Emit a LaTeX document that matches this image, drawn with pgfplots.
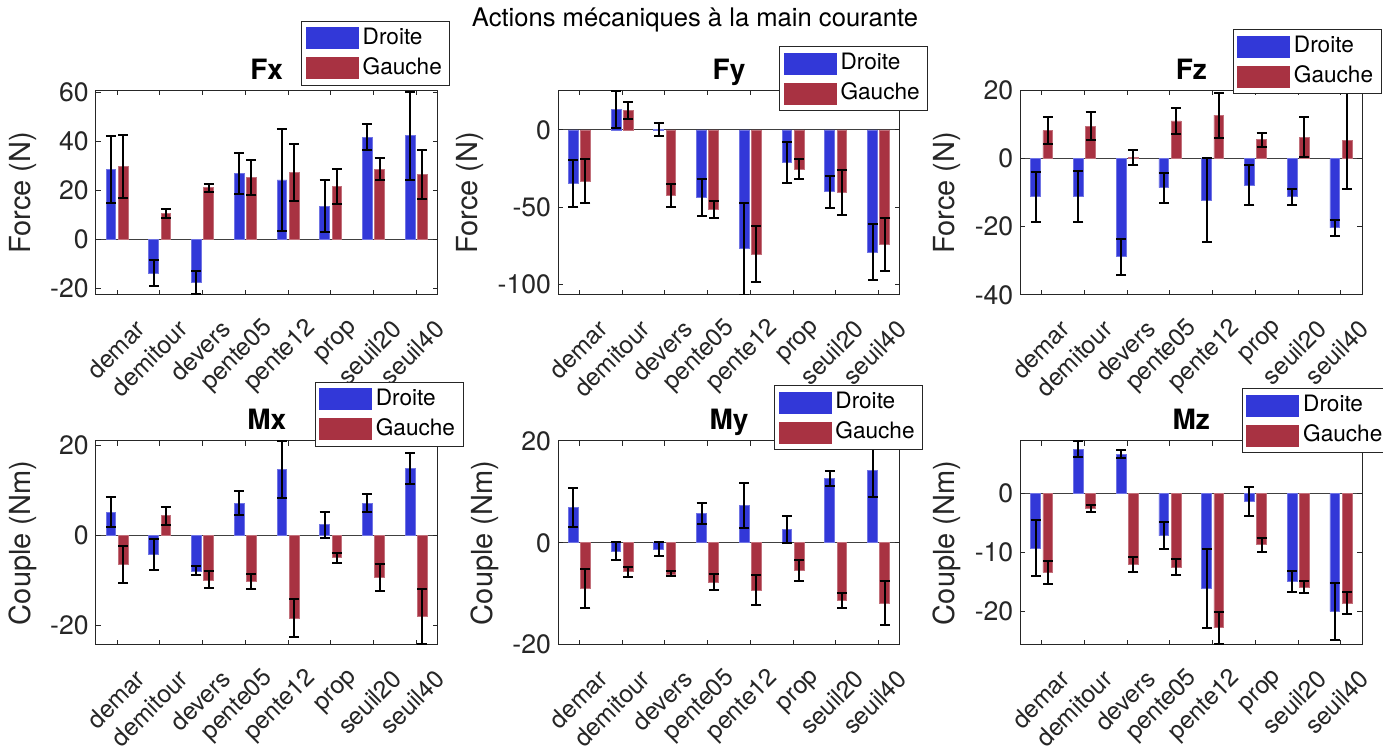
\documentclass[border=0pt]{standalone}
\usepackage{fontspec}
\setmainfont{TeX Gyre Heros}
\usepackage{pgfplots}
\pgfplotsset{compat=1.18}
\definecolor{dblue}{HTML}{3238D8}
\definecolor{gred}{HTML}{A83242}
\newcommand\tickfont{\fontsize{13.3}{15}\selectfont}
\newcommand\xtickfont{\fontsize{12.3}{14}\selectfont}
\newcommand\labfont{\fontsize{14.5}{16}\selectfont}
\newcommand\titfont{\fontsize{14}{16}\selectfont\bfseries}
\newcommand\legfont{\fontsize{11.3}{13}\selectfont}

% bars sit at category -0.1429 (Droite) and +0.1429 (Gauche)
\pgfplotsset{
  panel/.style={
    scale only axis, width=171pt, anchor=south west,
    xmin=0.5, xmax=8.5,
    xtick={1,...,8},
    xticklabels={demar,demitour,devers,pente05,pente12,prop,seuil20,seuil40},
    tick align=inside, major tick length=2.5pt,
    axis line style={black!85, line width=0.5pt},
    every tick/.style={black!85, line width=0.5pt},
    tick label style={font=\tickfont, text=black!85},
    /pgf/number format/assume math mode=true,
    xticklabel style={font=\xtickfont, anchor=east, inner sep=0pt, xshift=11.85pt, yshift=-14.85pt, rotate=45},
    ylabel style={font=\labfont, text=black!85},
    title style={font=\titfont, at={(0.5,1)}, anchor=base, yshift=-0.5pt},
    extra y ticks={0}, extra y tick labels={},
    extra y tick style={grid=major, major grid style={black!75, line width=0.5pt}},
    legend style={draw=black!85, line width=0.5pt, font=\legfont, fill=white,
      inner xsep=2pt, inner ysep=2pt, row sep=2pt,
      nodes={inner xsep=2pt, inner ysep=1pt, text height=8.5pt, text depth=2.5pt}},
    legend cell align=left,
  },
  errs/.style={error bars/.cd, y dir=both, y explicit,
    error bar style={black, line width=1pt},
    error mark options={black, line width=1pt, mark size=2.5pt, rotate=90}},
  dbar/.style={ybar, bar width=0.2286, bar shift=0pt, fill=dblue, draw=dblue!70!white, line width=0.4pt,
    legend image code/.code={\fill[dblue] (0pt,-5.3pt) rectangle (26pt,5.3pt);}, errs},
  gbar/.style={ybar, bar width=0.2286, bar shift=0pt, fill=gred, draw=gred!70!white, line width=0.4pt,
    legend image code/.code={\fill[gred] (0pt,-5.3pt) rectangle (26pt,5.3pt);}, errs},
}

\begin{document}
\begin{tikzpicture}
\path[use as bounding box] (0,0) rectangle (691.5pt,373.5pt);
\clip (0,0) rectangle (691.5pt,373.5pt);

\node[anchor=base, font=\fontsize{12.8}{15}\selectfont] at (347.5pt,360.2pt) {Actions mécaniques à la main courante};

% Fx
\begin{axis}[panel, at={(47.85pt,226pt)}, height=102.35pt,
  ymin=-22.6, ymax=61, ytick={-20,0,20,40,60},
  ylabel={Force (N)}, title={Fx},
  legend style={at={(0.6015,1.34)}, anchor=north west}]
\addplot[dbar] coordinates {
  (0.857,28.7) +- (0,13.6) (1.857,-13.7) +- (0,5.2) (2.857,-17.6) +- (0,4.8) (3.857,26.9) +- (0,8.4)
  (4.857,24.4) +- (0,20.9) (5.857,13.7) +- (0,10.5) (6.857,41.8) +- (0,5.3) (7.857,42.4) +- (0,18)};
\addplot[gbar] coordinates {
  (1.143,29.9) +- (0,12.9) (2.143,10.7) +- (0,2) (3.143,21.2) +- (0,1.7) (4.143,25.4) +- (0,7)
  (5.143,27.5) +- (0,11.7) (6.143,21.6) +- (0,7.1) (7.143,28.8) +- (0,4.4) (8.143,26.8) +- (0,10)};
\legend{Droite,Gauche}
\end{axis}

% Fy
\begin{axis}[panel, at={(279pt,226pt)}, height=102.35pt,
  ymin=-106.9, ymax=25.7, ytick={-100,-50,0},
  ylabel={Force (N)}, title={Fy},
  legend style={at={(0.647,1.216)}, anchor=north west}]
\addplot[dbar] coordinates {
  (0.857,-34.8) +- (0,15.3) (1.857,13.4) +- (0,12.1) (2.857,0.2) +- (0,4.3) (3.857,-43.7) +- (0,11.9)
  (4.857,-76.8) +- (0,29.8) (5.857,-21) +- (0,13.3) (6.857,-40) +- (0,10.3) (7.857,-79) +- (0,18.2)};
\addplot[gbar] coordinates {
  (1.143,-33.3) +- (0,14.3) (2.143,12.6) +- (0,5.5) (3.143,-42.4) +- (0,7.4) (4.143,-51.5) +- (0,5.8)
  (5.143,-80.3) +- (0,18.3) (6.143,-25.3) +- (0,6.4) (7.143,-40.5) +- (0,14.6) (8.143,-74) +- (0,17.2)};
\legend{Droite,Gauche}
\end{axis}

% Fz
\begin{axis}[panel, at={(510.15pt,226pt)}, height=102.35pt,
  ymin=-40, ymax=20, ytick={-40,-20,0,20},
  ylabel={Force (N)}, title={Fz},
  legend style={at={(0.621,1.299)}, anchor=north west}]
\addplot[dbar] coordinates {
  (0.857,-11.2) +- (0,7.3) (1.857,-11.2) +- (0,7.4) (2.857,-28.8) +- (0,5.2) (3.857,-8.5) +- (0,4.4)
  (4.857,-12.2) +- (0,12.3) (5.857,-7.8) +- (0,5.8) (6.857,-11.2) +- (0,2.3) (7.857,-20.3) +- (0,2.4)};
\addplot[gbar] coordinates {
  (1.143,8.2) +- (0,3.9) (2.143,9.5) +- (0,4) (3.143,0.2) +- (0,2.2) (4.143,11) +- (0,3.7)
  (5.143,12.7) +- (0,6.6) (6.143,5.5) +- (0,2) (7.143,6.3) +- (0,5.8) (8.143,5.2) +- (0,14.1)};
\legend{Droite,Gauche}
\end{axis}

% Mx
\begin{axis}[panel, at={(47.85pt,51.15pt)}, height=101.85pt,
  ymin=-24.3, ymax=21, ytick={-20,0,20},
  ylabel={Couple (Nm)}, title={Mx},
  legend style={at={(0.640,1.291)}, anchor=north west}]
\addplot[dbar] coordinates {
  (0.857,5.2) +- (0,3.4) (1.857,-4.2) +- (0,3.4) (2.857,-7.9) +- (0,1) (3.857,7.2) +- (0,2.6)
  (4.857,14.7) +- (0,6.3) (5.857,2.4) +- (0,2.9) (6.857,7.1) +- (0,2) (7.857,14.9) +- (0,3.4)};
\addplot[gbar] coordinates {
  (1.143,-6.5) +- (0,4.1) (2.143,4.4) +- (0,2) (3.143,-9.9) +- (0,1.9) (4.143,-10.3) +- (0,1.7)
  (5.143,-18.4) +- (0,4.2) (6.143,-5) +- (0,1.1) (7.143,-9.3) +- (0,3) (8.143,-18.1) +- (0,6.1)};
\legend{Droite,Gauche}
\end{axis}

% My
\begin{axis}[panel, at={(279pt,51.15pt)}, height=101.85pt,
  ymin=-20, ymax=20, ytick={-20,0,20},
  ylabel={Couple (Nm)}, title={My},
  legend style={at={(0.632,1.273)}, anchor=north west}]
\addplot[dbar] coordinates {
  (0.857,6.9) +- (0,3.8) (1.857,-1.6) +- (0,1.8) (2.857,-1.2) +- (0,1.3) (3.857,5.8) +- (0,2.1)
  (4.857,7.3) +- (0,4.4) (5.857,2.6) +- (0,2.7) (6.857,12.7) +- (0,1.5) (7.857,14.3) +- (0,5.3)};
\addplot[gbar] coordinates {
  (1.143,-9) +- (0,3.8) (2.143,-5.7) +- (0,1) (3.143,-6.1) +- (0,0.5) (4.143,-7.7) +- (0,1.6)
  (5.143,-9.3) +- (0,2.9) (6.143,-5.4) +- (0,2) (7.143,-11.3) +- (0,1.4) (8.143,-11.8) +- (0,4.4)};
\legend{Droite,Gauche}
\end{axis}

% Mz
\begin{axis}[panel, at={(510.15pt,51.15pt)}, height=101.85pt,
  ymin=-25.66, ymax=8.86, ytick={-20,-10,0},
  ylabel={Couple (Nm)}, title={Mz},
  legend style={at={(0.648,1.259)}, anchor=north west}]
\addplot[dbar] coordinates {
  (0.857,-9.3) +- (0,4.8) (1.857,7.5) +- (0,1.3) (2.857,6.6) +- (0,0.7) (3.857,-7.2) +- (0,2.3)
  (4.857,-16.2) +- (0,6.7) (5.857,-1.4) +- (0,2.5) (6.857,-14.9) +- (0,1.8) (7.857,-20) +- (0,4.8)};
\addplot[gbar] coordinates {
  (1.143,-13.4) +- (0,2) (2.143,-2.6) +- (0,0.65) (3.143,-12.1) +- (0,1.3) (4.143,-12.5) +- (0,1.3)
  (5.143,-22.8) +- (0,2.7) (6.143,-8.7) +- (0,1.2) (7.143,-15.9) +- (0,1) (8.143,-18.6) +- (0,1.9)};
\legend{Droite,Gauche}
\end{axis}
\end{tikzpicture}
\end{document}
